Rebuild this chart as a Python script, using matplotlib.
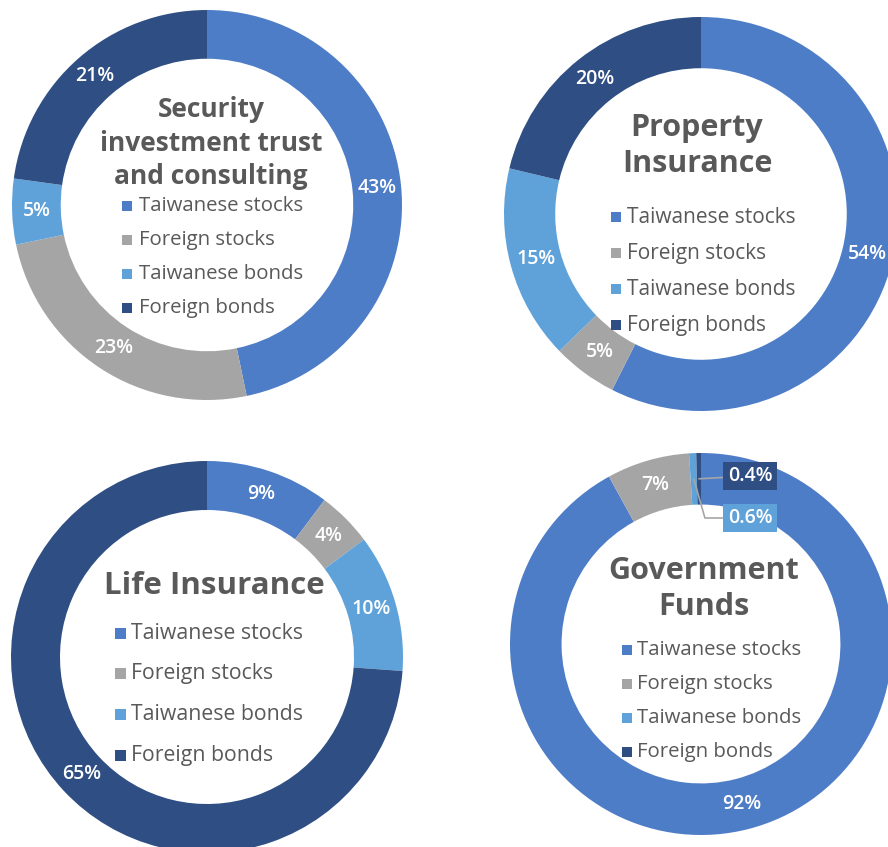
import matplotlib
matplotlib.use("Agg")
import matplotlib.pyplot as plt
from matplotlib.patches import Rectangle
import numpy as np

# ---------------- data ----------------
categories = ["Taiwanese stocks", "Foreign stocks", "Taiwanese bonds", "Foreign bonds"]
colors = ["#4E7DC8", "#A5A5A5", "#5FA2DA", "#2F4F84"]

titles = ["Security\ninvestment trust\nand consulting", "Property\nInsurance",
          "Life Insurance", "Government\nFunds"]
security_values = [43, 23, 5, 21]
property_values = [54, 5, 15, 20]
life_values = [9, 4, 10, 65]
government_values = [92, 7, 0.6, 0.4]

# ---------------- layout (pixel units, y measured downward) ----------------
W, H = 888, 847
FONT = ["Open Sans", "DejaVu Sans"]
TEXT_GRAY = "#595959"
LABEL_SIZE = 14

panels = [
    dict(values=security_values, title=titles[0], cx=207, cy=205, R=195, ring=0.25,
         title_xy=(211, 143), title_size=19, title_ls=1.3,
         mk_x=127, tx_x=139, leg_y=206, leg_dy=34, leg_size=14.7, mk=10),
    dict(values=property_values, title=titles[1], cx=701, cy=214, R=197, ring=0.26,
         title_xy=(697, 146), title_size=22, title_ls=1.27,
         mk_x=616, tx_x=627, leg_y=217, leg_dy=36, leg_size=15, mk=10),
    dict(values=life_values, title=titles[2], cx=207, cy=657, R=196, ring=0.25,
         title_xy=(214, 586), title_size=22.5, title_ls=1.0,
         mk_x=120, tx_x=131, leg_y=633, leg_dy=40.7, leg_size=15.3, mk=11),
    dict(values=government_values, title=titles[3], cx=701, cy=644, R=191, ring=0.27,
         title_xy=(704, 589), title_size=22, title_ls=1.22,
         mk_x=627, tx_x=637, leg_y=650, leg_dy=34, leg_size=14.7, mk=10),
]

fig = plt.figure(figsize=(W / 100, H / 100), dpi=100)
fig.patch.set_facecolor("white")
ax = fig.add_axes([0, 0, 1, 1])


def Y(py):
    return H - py


for p in panels:
    wedges, _ = ax.pie(p["values"], colors=colors, startangle=90, counterclock=False,
                       center=(p["cx"], Y(p["cy"])), radius=p["R"], normalize=True,
                       wedgeprops=dict(width=p["ring"] * p["R"], linewidth=0))
    for w, v in zip(wedges, p["values"]):
        w.set_clip_on(False)
        ang = np.deg2rad((w.theta1 + w.theta2) / 2)
        r = w.r - w.width / 2
        x = w.center[0] + r * np.cos(ang)
        y = w.center[1] + r * np.sin(ang)
        lab = f"{v:g}%"
        if v >= 1:
            ax.text(x, y, lab, ha="center", va="center", color="white",
                    fontsize=LABEL_SIZE, fontweight="semibold", family=FONT)
    # small slices (government funds) with boxed callouts
    if p["values"] is government_values:
        small = [(3, (49, -168), "arc3"), (2, (49, -126), "angle,angleA=0,angleB=-74")]
        for idx, (dx, dy), cs in small:
            w = wedges[idx]
            ang = np.deg2rad((w.theta1 + w.theta2) / 2)
            r = w.r - w.width / 2
            x = w.center[0] + r * np.cos(ang)
            y = w.center[1] + r * np.sin(ang)
            ax.annotate(f"{p['values'][idx]:g}%", xy=(x, y),
                        xytext=(p["cx"] + dx, Y(p["cy"] + dy)),
                        ha="center", va="center", color="white", fontsize=LABEL_SIZE,
                        fontweight="semibold", family=FONT,
                        bbox=dict(boxstyle="square,pad=0.22", fc=colors[idx], ec="none"),
                        arrowprops=dict(arrowstyle="-", color="#A6A6A6", lw=1.2,
                                        shrinkA=0, shrinkB=0, connectionstyle=cs))
    # title in the hole
    ax.text(p["title_xy"][0], Y(p["title_xy"][1]), p["title"], ha="center", va="center",
            fontsize=p["title_size"], fontweight="bold", color=TEXT_GRAY, family=FONT,
            linespacing=p["title_ls"])
    # legend in the hole
    for i, (cat, col) in enumerate(zip(categories, colors)):
        yy = Y(p["leg_y"] + i * p["leg_dy"])
        s = p["mk"]
        ax.add_patch(Rectangle((p["mk_x"] - s / 2, yy - s / 2), s, s, fc=col, ec="none"))
        ax.text(p["tx_x"], yy, cat, ha="left", va="center", fontsize=p["leg_size"],
                color=TEXT_GRAY, family=FONT)

ax.set_xlim(0, W)
ax.set_ylim(0, H)
ax.set_aspect("equal", adjustable="box")
ax.axis("off")

fig.savefig("out.png", dpi=100, facecolor="white")
